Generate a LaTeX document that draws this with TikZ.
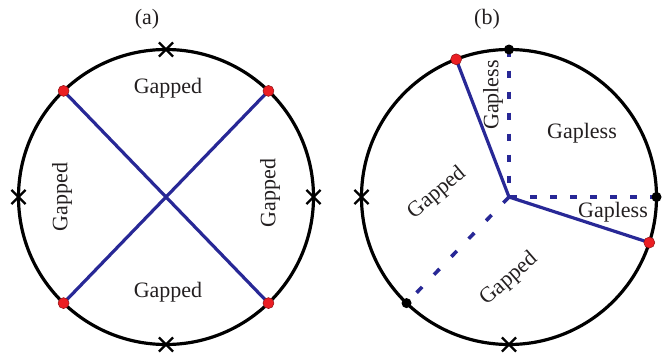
\documentclass[tikz,border=0pt]{standalone}
\usepackage{fontspec}
\setmainfont{Liberation Serif}
\usetikzlibrary{shapes.misc}
\definecolor{lineblue}{RGB}{40,40,150}
\definecolor{dotred}{RGB}{235,30,35}
\definecolor{txt}{RGB}{35,31,32}
\begin{document}
\begin{tikzpicture}[x=1pt,y=-1pt,
  ring/.style={circle, draw, line width=3.2pt, minimum size=295pt, inner sep=0pt, outer sep=0pt},
  reddot/.style={circle, fill=dotred, draw=dotred!60!black, line width=0.5pt, minimum size=11pt, inner sep=0pt},
  blackdot/.style={circle, fill=black, minimum size=10pt, inner sep=0pt},
  xmark/.style={cross out, draw, line width=2.2pt, minimum size=12pt, inner sep=0pt},
  bluel/.style={draw=lineblue, line width=3.2pt},
  dashl/.style={draw=lineblue, line width=3.6pt, dash pattern=on 7pt off 14pt},
  lab/.style={font=\fontsize{22}{26}\selectfont, text=txt, inner sep=0pt}]
\useasboundingbox (0,0) rectangle (670,356);
% ---------- (a) ----------
\node[lab] (ta) at (147,19) {(a)};
\node[ring] (A) at (166,197) {};
\node[xmark] (ax1) at (A.90) {};
\node[xmark] (ax2) at (A.270) {};
\node[xmark] (ax3) at (A.180) {};
\node[xmark] (ax4) at (A.0) {};
\coordinate (ac) at (A.center);
\draw[bluel] (A.134) -- (A.314);
\draw[bluel] (A.46) -- (A.226);
\node[reddot] (a1) at (A.134) {};
\node[reddot] (a2) at (A.46) {};
\node[reddot] (a3) at (A.226) {};
\node[reddot] (a4) at (A.314) {};
\node[lab] (ga1) at (168,88) {Gapped};
\node[lab] (ga2) at (168,292) {Gapped};
\node[lab, rotate=90] (ga3) at (62,197) {Gapped};
\node[lab, rotate=90] (ga4) at (270,193) {Gapped};
% ---------- (b) ----------
\node[lab] (tb) at (487,19) {(b)};
\node[ring] (B) at (509,197) {};
\coordinate (bc) at (B.center);
\node[xmark] (bx1) at (B.180) {};
\node[xmark] (bx2) at (B.270) {};
\coordinate (k1) at (B.90);
\coordinate (k2) at (B.0);
\coordinate (k3) at (B.226);
\draw[dashl] (k1) -- (bc);
\draw[dashl, dash pattern=on 7pt off 13pt] (k2) -- (bc);
\draw[dashl, dash pattern=on 8pt off 17pt] (bc) -- (k3);
\coordinate (r1) at (B.111);
\coordinate (r2) at (B.-18);
\draw[bluel] (r1) -- (bc) -- (r2);
\node[reddot] (b1) at (r1) {};
\node[reddot] (b2) at (r2) {};
\node[blackdot] (d1) at (k1) {};
\node[blackdot] (d2) at (k2) {};
\node[blackdot] (d3) at (k3) {};
\node[lab, rotate=90] (gb1) at (493,95) {Gapless};
\node[lab] (gb2) at (582,133) {Gapless};
\node[lab] (gb3) at (613,212) {Gapless};
\node[lab, rotate=40] (gb4) at (437,193) {Gapped};
\node[lab, rotate=41] (gb5) at (509,279) {Gapped};
\end{tikzpicture}
\end{document}
